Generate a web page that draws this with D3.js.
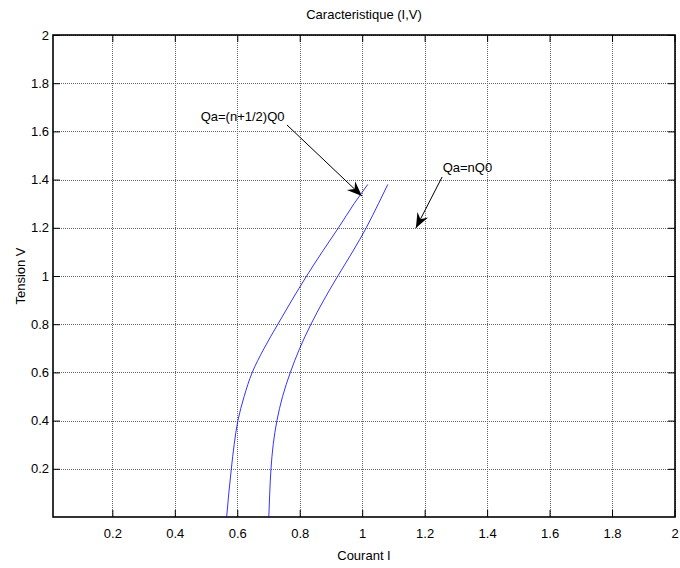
<!DOCTYPE html>
<html>
<head>
<meta charset="utf-8">
<script src="https://d3js.org/d3.v7.min.js"></script>
<style>
  body { margin: 0; background: #fff; }
  svg text { font-family: "Liberation Sans", Arial, sans-serif; fill: #000; }
</style>
</head>
<body>
<script>
// tension (V) sampled along both curves
var tension = [0, 0.1, 0.2, 0.3, 0.4, 0.5, 0.6, 0.7, 0.8, 0.9, 1.0, 1.1, 1.2, 1.3, 1.38];
// courant (I) for Qa=(n+1/2)Q0
var courantHalf = [0.566, 0.573, 0.581, 0.59, 0.602, 0.622, 0.648, 0.686, 0.73, 0.775, 0.822, 0.872, 0.924, 0.974, 1.018];
// courant (I) for Qa=nQ0
var courantN = [0.701, 0.704, 0.708, 0.715, 0.727, 0.745, 0.77, 0.8, 0.836, 0.877, 0.922, 0.969, 1.013, 1.052, 1.082];

var xTicks = [0.2, 0.4, 0.6, 0.8, 1, 1.2, 1.4, 1.6, 1.8, 2];
var yTicks = [0.2, 0.4, 0.6, 0.8, 1, 1.2, 1.4, 1.6, 1.8, 2];

// annotations: label position, arrow start, arrow tip (data units)
var notes = [
  { label: "Qa=(n+1/2)Q0", lx: 0.617, ly: 1.66, x0: 0.759, y0: 1.627, x1: 0.999, y1: 1.332 },
  { label: "Qa=nQ0", lx: 1.337, ly: 1.452, x0: 1.256, y0: 1.411, x1: 1.172, y1: 1.199 }
];

var W = 680, H = 568;
var pLeft = 53, pRight = 675, pTop = 35, pBottom = 517;

var svg = d3.select("body").append("svg")
  .attr("width", W).attr("height", H);

var x = d3.scaleLinear().domain([0.01, 2]).range([pLeft, 674.5]);
var y = d3.scaleLinear().domain([0, 2]).range([pBottom, pTop]);

// grid
var grid = svg.append("g").attr("stroke", "#666").attr("stroke-width", 1)
  .attr("stroke-dasharray", "1,1");
grid.selectAll(".gx").data(xTicks).enter().append("line")
  .attr("x1", function(d) { return Math.round(x(d)) + 0.5; })
  .attr("x2", function(d) { return Math.round(x(d)) + 0.5; })
  .attr("y1", pTop).attr("y2", pBottom);
grid.selectAll(".gy").data(yTicks).enter().append("line")
  .attr("y1", function(d) { return Math.round(y(d)) + 0.5; })
  .attr("y2", function(d) { return Math.round(y(d)) + 0.5; })
  .attr("x1", pLeft).attr("x2", pRight);

// axes, ticks inside like matlab
var fmt = function(d) { return d3.format("")(d); };
var gb = svg.append("g").attr("transform", "translate(0," + pBottom + ")")
  .call(d3.axisBottom(x).tickValues(xTicks).tickSize(-7).tickPadding(12).tickFormat(fmt));
var gt = svg.append("g").attr("transform", "translate(0," + pTop + ")")
  .call(d3.axisTop(x).tickValues(xTicks).tickSize(-7).tickFormat(""));
var gl = svg.append("g").attr("transform", "translate(" + pLeft + ",0)")
  .call(d3.axisLeft(y).tickValues(yTicks).tickSize(-7).tickPadding(4).tickFormat(fmt));
var gr = svg.append("g").attr("transform", "translate(" + pRight + ",0)")
  .call(d3.axisRight(y).tickValues(yTicks).tickSize(-7).tickFormat(""));

[gb, gt, gl, gr].forEach(function(g) {
  g.select(".domain").remove();
  g.selectAll("line").attr("stroke", "#000");
  g.selectAll("text").style("font-size", "13px").attr("fill", "#000");
});

svg.append("rect")
  .attr("x", pLeft).attr("y", pTop)
  .attr("width", pRight - pLeft).attr("height", pBottom - pTop)
  .attr("fill", "none").attr("stroke", "#000").attr("stroke-width", 1.6);

// curves
var line = d3.line()
  .x(function(d) { return x(d[0]); })
  .y(function(d) { return y(d[1]); })
  .curve(d3.curveMonotoneY);

[courantHalf, courantN].forEach(function(c) {
  svg.append("path")
    .datum(d3.zip(c, tension))
    .attr("d", line)
    .attr("fill", "none")
    .attr("stroke", "#0000ff")
    .attr("stroke-width", 0.8);
});

// annotations
notes.forEach(function(n) {
  var px0 = x(n.x0), py0 = y(n.y0), px1 = x(n.x1), py1 = y(n.y1);
  svg.append("line")
    .attr("x1", px0).attr("y1", py0).attr("x2", px1).attr("y2", py1)
    .attr("stroke", "#000").attr("stroke-width", 1);
  var ang = Math.atan2(py1 - py0, px1 - px0) * 180 / Math.PI;
  svg.append("path")
    .attr("d", "M0,0 L-15,-6 L-10,0 L-15,6 Z")
    .attr("transform", "translate(" + px1 + "," + py1 + ") rotate(" + ang + ")")
    .attr("fill", "#000");
  svg.append("text")
    .attr("x", x(n.lx)).attr("y", y(n.ly))
    .attr("text-anchor", "middle").attr("dy", "0.35em")
    .style("font-size", "13px")
    .text(n.label);
});

// titles
svg.append("text")
  .attr("x", (pLeft + pRight) / 2).attr("y", 19)
  .attr("text-anchor", "middle").style("font-size", "13px")
  .text("Caracteristique (I,V)");
svg.append("text")
  .attr("x", (pLeft + pRight) / 2).attr("y", 560)
  .attr("text-anchor", "middle").style("font-size", "13px")
  .text("Courant I");
svg.append("text")
  .attr("transform", "translate(25," + (pTop + pBottom) / 2 + ") rotate(-90)")
  .attr("text-anchor", "middle").style("font-size", "13px")
  .text("Tension V");
</script>
</body>
</html>
